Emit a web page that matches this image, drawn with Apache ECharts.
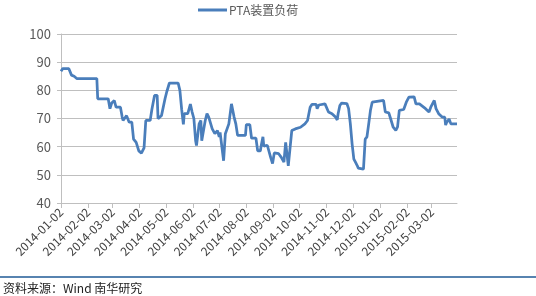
<!DOCTYPE html>
<html>
<head>
<meta charset="utf-8">
<script src="https://cdn.jsdelivr.net/npm/echarts@6/dist/echarts.min.js"></script>
<style>
html,body{margin:0;padding:0;background:#fff;}
#c{width:536px;height:296px;}
</style>
</head>
<body>
<div id="c"></div>
<script>
var seriesName = 'PTA装置负荷';
var sourceText = '资料来源：Wind 南华研究';
var yTicks = [40, 50, 60, 70, 80, 90, 100];
var tickLabels = ['2014-01-02','2014-02-02','2014-03-02','2014-04-02','2014-05-02','2014-06-02','2014-07-02','2014-08-02','2014-09-02','2014-10-02','2014-11-02','2014-12-02','2015-01-02','2015-02-02','2015-03-02'];
var xMin = '2014-01-02';
var xMax = '2015-03-31';
var dates = [
'2014-01-02','2014-01-04','2014-01-11','2014-01-14','2014-01-17','2014-01-20','2014-02-12','2014-02-13','2014-02-25','2014-02-27',
'2014-03-01','2014-03-04','2014-03-06','2014-03-11','2014-03-13','2014-03-14','2014-03-18','2014-03-19','2014-03-21','2014-03-24',
'2014-03-26','2014-03-29','2014-04-01','2014-04-04','2014-04-07','2014-04-09','2014-04-14','2014-04-16','2014-04-19','2014-04-22',
'2014-04-23','2014-04-27','2014-04-29','2014-05-01','2014-05-03','2014-05-06','2014-05-16','2014-05-18','2014-05-20','2014-05-22',
'2014-05-23','2014-05-27','2014-05-30','2014-06-01','2014-06-03','2014-06-05','2014-06-06','2014-06-09','2014-06-11','2014-06-12',
'2014-06-14','2014-06-16','2014-06-18','2014-06-20','2014-06-22','2014-06-24','2014-06-26','2014-06-27','2014-06-30','2014-07-02',
'2014-07-03','2014-07-05','2014-07-07','2014-07-09','2014-07-13','2014-07-16','2014-07-19','2014-07-21','2014-07-23','2014-08-01',
'2014-08-02','2014-08-06','2014-08-08','2014-08-13','2014-08-15','2014-08-18','2014-08-19','2014-08-21','2014-08-22','2014-08-26',
'2014-08-28','2014-08-30','2014-09-01','2014-09-03','2014-09-08','2014-09-11','2014-09-14','2014-09-16','2014-09-19','2014-09-23',
'2014-09-25','2014-09-27','2014-10-03','2014-10-08','2014-10-11','2014-10-14','2014-10-16','2014-10-21','2014-10-22','2014-10-24',
'2014-10-31','2014-11-04','2014-11-08','2014-11-12','2014-11-14','2014-11-15','2014-11-17','2014-11-19','2014-11-25','2014-11-27',
'2014-11-29','2014-12-01','2014-12-03','2014-12-05','2014-12-07','2014-12-08','2014-12-14','2014-12-15','2014-12-16','2014-12-18',
'2014-12-20','2014-12-22','2014-12-24','2014-12-26','2015-01-06','2015-01-08','2015-01-12','2015-01-14','2015-01-17','2015-01-20',
'2015-01-22','2015-01-24','2015-01-29','2015-02-01','2015-02-04','2015-02-10','2015-02-12','2015-02-16','2015-02-23','2015-02-27',
'2015-03-01','2015-03-02','2015-03-05','2015-03-07','2015-03-10','2015-03-14','2015-03-17','2015-03-18','2015-03-19','2015-03-22',
'2015-03-24','2015-03-31'
];
var loads = [
86.8,87.7,87.7,85.4,85.0,84.2,84.2,77.0,77.0,73.5,
75.5,76.4,74.0,74.0,70.5,69.3,71.0,71.0,68.7,68.7,
62.7,61.5,58.5,57.7,59.6,69.3,69.3,73.3,78.2,78.2,
69.9,71.1,71.7,77.0,79.5,82.6,82.6,80.0,73.3,67.9,
71.7,71.7,75.1,72.3,70.0,62.1,60.4,68.1,69.3,62.1,
62.5,69.3,71.7,70.5,70.0,66.3,67.0,64.6,65.7,63.5,
65.1,60.0,55.0,64.6,68.1,75.2,70.5,68.1,64.0,64.0,
67.8,67.8,63.0,63.0,58.5,58.5,60.3,63.5,60.2,60.5,
60.0,56.0,54.0,57.8,57.5,56.2,54.5,61.5,53.2,65.7,
65.2,66.3,66.9,68.1,69.3,74.0,75.0,75.0,73.5,74.8,
75.2,72.3,71.7,70.5,69.5,71.7,74.6,75.5,75.3,73.5,
68.1,61.0,55.6,54.4,53.2,52.4,52.0,52.5,62.7,63.5,
68.1,72.9,75.8,76.4,76.4,72.3,72.0,70.0,66.9,65.8,
67.0,72.9,73.2,75.8,77.6,77.7,75.2,75.2,73.5,72.3,
74.0,73.3,76.4,73.5,71.7,70.5,70.5,67.7,68.5,69.8,
68.1,68.1
];

var chart = echarts.init(document.getElementById('c'), null, {renderer: 'canvas'});
var pts = dates.map(function (d, i) { return [d, loads[i]]; });
var fontFam = '"Noto Sans CJK SC", "Noto Sans", "Liberation Sans", sans-serif';
chart.setOption({
  animation: false,
  textStyle: {fontFamily: fontFam},
  legend: {
    top: -1,
    left: 193,
    itemWidth: 29,
    itemHeight: 3,
    itemGap: 4,
    icon: 'rect',
    textStyle: {fontSize: 12, color: '#595959', fontFamily: fontFam, padding: [0, 0, 0, -3]},
    data: [seriesName]
  },
  grid: {left: 61, right: 79, top: 34, bottom: 93, containLabel: false},
  xAxis: {
    type: 'time',
    min: xMin,
    max: xMax,
    axisLine: {show: true, lineStyle: {color: '#BFBFBF', width: 1}},
    axisTick: {show: true, length: 5, lineStyle: {color: '#BFBFBF'}, customValues: tickLabels},
    axisLabel: {
      customValues: tickLabels,
      rotate: 45,
      margin: 7,
      fontSize: 12,
      color: '#404040',
      fontFamily: fontFam,
      formatter: '{yyyy}-{MM}-{dd}'
    },
    splitLine: {show: false}
  },
  yAxis: {
    type: 'value',
    min: yTicks[0],
    max: yTicks[yTicks.length - 1],
    interval: 10,
    axisLine: {show: true, lineStyle: {color: '#BFBFBF', width: 1}},
    axisTick: {show: true, length: 4, lineStyle: {color: '#BFBFBF'}},
    axisLabel: {fontSize: 13, color: '#595959', margin: 10, fontFamily: fontFam},
    splitLine: {show: true, lineStyle: {color: '#BFBFBF', width: 1}}
  },
  series: [{
    name: seriesName,
    type: 'line',
    data: pts,
    showSymbol: false,
    symbol: 'none',
    lineStyle: {color: '#4A7EBB', width: 2.75},
    itemStyle: {color: '#4A7EBB'}
  }],
  graphic: [
    {type: 'line', shape: {x1: 0, y1: 277, x2: 536, y2: 277}, style: {stroke: '#1F5A96', lineWidth: 1.5}},
    {type: 'text', left: 3, top: 282, style: {text: sourceText, fontSize: 12, fill: '#222', fontFamily: fontFam}}
  ]
});
</script>
</body>
</html>
